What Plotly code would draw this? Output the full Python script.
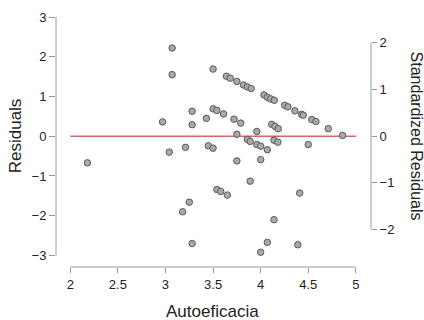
import plotly.graph_objects as go

# Data
autoeficacia = [2.18, 3.07, 3.07, 2.97, 3.04, 3.21, 3.28, 3.28, 3.25, 3.18, 3.28,
                3.43, 3.45, 3.50, 3.50, 3.50, 3.54, 3.61, 3.54, 3.58, 3.65,
                3.64, 3.68, 3.75, 3.72, 3.79, 3.75, 3.75, 3.82, 3.86, 3.90,
                3.86, 3.89, 3.89, 3.96, 3.96, 4.00, 4.00, 4.00, 4.07, 4.07,
                4.035, 4.07, 4.105, 4.143, 4.116, 4.15, 4.185, 4.14, 4.18, 4.14,
                4.252, 4.287, 4.36, 4.43, 4.447, 4.41, 4.39, 4.50, 4.536, 4.58,
                4.71, 4.86]
residuals = [-0.67, 2.22, 1.55, 0.36, -0.40, -0.28, 0.63, 0.29, -1.66, -1.90, -2.70,
             0.45, -0.24, -0.30, 1.69, 0.69, 0.65, 0.56, -1.34, -1.39, -1.48,
             1.51, 1.46, 1.38, 0.43, 0.33, 0.05, -0.62, 1.29, 1.24, 1.20,
             -0.08, -0.13, -1.13, 0.12, -0.21, -0.25, -0.59, -2.92, -0.34, -2.67,
             1.04, 0.98, 0.94, 0.905, 0.30, 0.25, 0.19, -0.10, -0.15, -2.10,
             0.78, 0.74, 0.64, 0.55, 0.53, -1.43, -2.73, -0.21, 0.42, 0.37,
             0.19, 0.02]
fit_x = [2, 5]
fit_y = [0, 0]
x_ticks = [2, 2.5, 3, 3.5, 4, 4.5, 5]
x_labels = ["2", "2.5", "3", "3.5", "4", "4.5", "5"]
y_ticks = [-3, -2, -1, 0, 1, 2, 3]
y2_ticks = [-2, -1, 0, 1, 2]
resid_sd = 1.174

FONT = "Liberation Sans, Arial, sans-serif"
AXIS_COL = "#9a9a9a"
TXT_COL = "#222222"

yrange = [-3.29, 3.0]
xrange = [1.85, 5.159]

fig = go.Figure()
fig.add_trace(go.Scatter(x=fit_x, y=fit_y, mode="lines",
                         line=dict(color="#cf6a6a", width=1.6), hoverinfo="skip",
                         showlegend=False))
fig.add_trace(go.Scatter(x=autoeficacia, y=residuals, mode="markers",
                         marker=dict(size=6.5, color="#a9a9a9",
                                     line=dict(color="#5a5a5a", width=1)),
                         showlegend=False))
# invisible trace to activate secondary axis
fig.add_trace(go.Scatter(x=[fit_x[0]], y=[0], yaxis="y2", mode="markers",
                         marker=dict(opacity=0), hoverinfo="skip", showlegend=False))

tickfont = dict(family=FONT, size=13, color=TXT_COL)
fig.update_layout(
    width=424, height=320,
    margin=dict(l=56, r=53, t=17, b=53),
    paper_bgcolor="white", plot_bgcolor="white",
    xaxis=dict(range=xrange, tickvals=x_ticks, ticktext=x_labels,
               showgrid=False, zeroline=False, showline=False,
               ticks="outside", ticklen=5, tickcolor=AXIS_COL, tickwidth=1,
               tickfont=tickfont, automargin=False),
    yaxis=dict(range=yrange, tickvals=y_ticks, showgrid=False, zeroline=False,
               showline=False, ticks="outside", ticklen=6, tickcolor=AXIS_COL,
               tickwidth=1, tickfont=tickfont, automargin=False),
    yaxis2=dict(range=[v / resid_sd for v in yrange], tickvals=y2_ticks,
                overlaying="y", side="right", showgrid=False, zeroline=False,
                showline=False, ticks="outside", ticklen=5, tickcolor=AXIS_COL,
                tickwidth=1, tickfont=tickfont, automargin=False),
    font=dict(family=FONT, color=TXT_COL),
    shapes=[
        dict(type="line", xref="paper", x0=0, x1=0, yref="y", y0=-3, y1=3,
             line=dict(color=AXIS_COL, width=1)),
        dict(type="line", xref="x", x0=2, x1=5, yref="paper", y0=0, y1=0,
             line=dict(color=AXIS_COL, width=1)),
        dict(type="line", xref="paper", x0=1, x1=1, yref="y2", y0=-2, y1=2,
             line=dict(color=AXIS_COL, width=1)),
    ],
    annotations=[
        dict(text="Autoeficacia", xref="paper", yref="paper", x=0.497, y=-0.176,
             xanchor="center", yanchor="middle", showarrow=False,
             font=dict(family=FONT, size=17, color=TXT_COL)),
        dict(text="Residuals", xref="paper", yref="y", x=-0.130, y=0,
             xanchor="center", yanchor="middle", textangle=-90, showarrow=False,
             font=dict(family=FONT, size=17, color=TXT_COL)),
        dict(text="Standardized Residuals", xref="paper", yref="y", x=1.145, y=0,
             xanchor="center", yanchor="middle", textangle=90, showarrow=False,
             font=dict(family=FONT, size=16, color=TXT_COL)),
    ],
)
fig.write_html("out.html", config={"displayModeBar": False},
               post_script="document.body.style.margin='0';")
